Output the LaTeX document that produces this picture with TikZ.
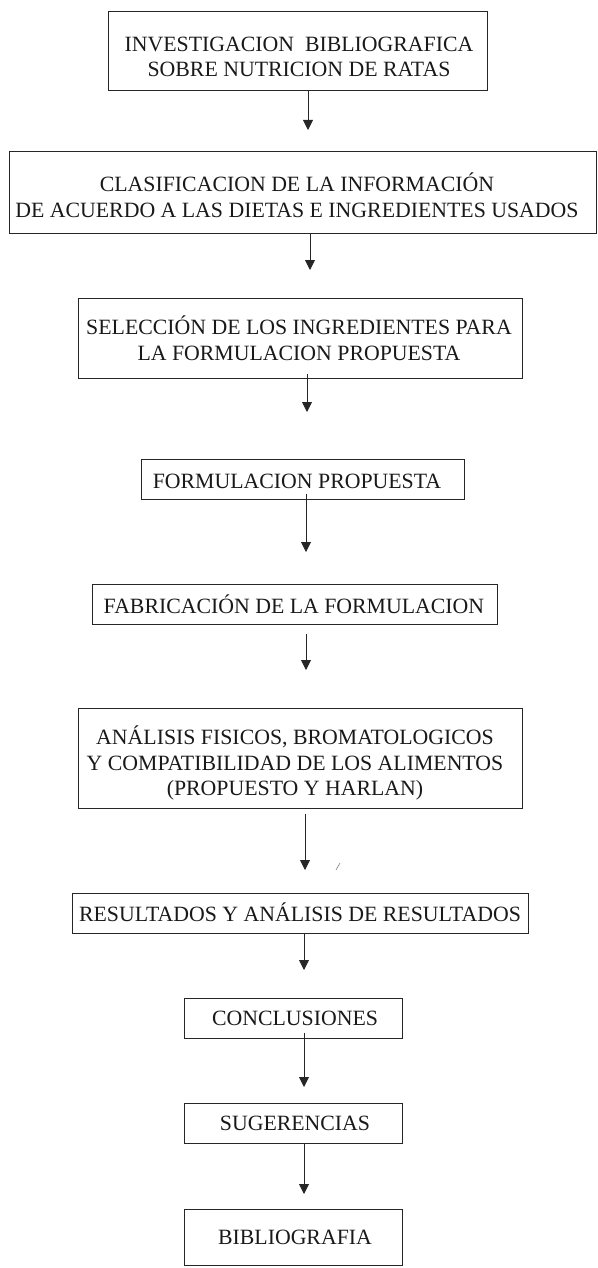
\documentclass[tikz,border=0pt]{standalone}
\usepackage{fontspec}
\setmainfont{Liberation Serif}
\usetikzlibrary{arrows.meta}
\tikzset{
  box/.style={draw=black!85, line width=1pt, inner sep=0pt},
  txt/.style={anchor=base, inner sep=0pt, font=\fontsize{21.8}{25}\selectfont, text=black!90},
  arr/.style={draw=black!85, line width=0.9pt, -{Triangle[length=10pt,width=10pt]}}
}
\begin{document}
\begin{tikzpicture}[x=1pt,y=-1pt]
\useasboundingbox (0,0) rectangle (597,1268);
% boxes
\node[box, minimum width=379pt, minimum height=79pt] (b1) at (297.5,51.5) {};
\node[box, minimum width=587pt, minimum height=81pt] (b2) at (302.5,192.5) {};
\node[box, minimum width=444pt, minimum height=80pt] (b3) at (300,338) {};
\node[box, minimum width=323pt, minimum height=40pt] (b4) at (302.5,479) {};
\node[box, minimum width=405pt, minimum height=40pt] (b5) at (294.5,604) {};
\node[box, minimum width=444pt, minimum height=100pt] (b6) at (300,758) {};
\node[box, minimum width=456pt, minimum height=40pt] (b7) at (300,913) {};
\node[box, minimum width=218pt, minimum height=40pt] (b8) at (293,1018) {};
\node[box, minimum width=218pt, minimum height=40pt] (b9) at (293,1123) {};
\node[box, minimum width=218pt, minimum height=56pt] (b10) at (293,1237) {};
% texts
\node[txt] (t1a) at (299,52) {INVESTIGACION\ \ BIBLIOGRAFICA};
\node[txt] (t1b) at (299,77) {SOBRE NUTRICION DE RATAS};
\node[txt] (t2a) at (297,192) {CLASIFICACION DE LA INFORMACIÓN};
\node[txt] (t2b) at (297,217) {DE ACUERDO A LAS DIETAS E INGREDIENTES USADOS};
\node[txt] (t3a) at (299,334) {SELECCIÓN DE LOS INGREDIENTES PARA};
\node[txt] (t3b) at (299,360) {LA FORMULACION PROPUESTA};
\node[txt] (t4) at (297,488) {FORMULACION PROPUESTA};
\node[txt] (t5) at (294,613) {FABRICACIÓN DE LA FORMULACION};
\node[txt] (t6a) at (295,744) {ANÁLISIS FISICOS, BROMATOLOGICOS};
\node[txt] (t6b) at (295,770) {Y COMPATIBILIDAD DE LOS ALIMENTOS};
\node[txt] (t6c) at (295,795) {(PROPUESTO Y HARLAN)};
\node[txt] (t7) at (300,921) {RESULTADOS Y ANÁLISIS DE RESULTADOS};
\node[txt] (t8) at (295,1025) {CONCLUSIONES};
\node[txt] (t9) at (295,1130) {SUGERENCIAS};
\node[txt] (t10) at (295,1244) {BIBLIOGRAFIA};
% arrow tips
\coordinate (e1) at (308,130);
\coordinate (e2) at (310,270);
\coordinate (e3) at (307,412);
\coordinate (e4) at (306,552);
\coordinate (e5) at (306,670);
\coordinate (e6) at (305,870);
\coordinate (e7) at (304,970);
\coordinate (e8) at (304,1087);
\coordinate (e9) at (304,1194);
% connectors
\draw[arr] (e1 |- b1.south) -- (e1);
\draw[arr] (e2 |- b2.south) -- (e2);
\draw[arr, shorten <=-5pt] (e3 |- b3.south) -- (e3);
\draw[arr, shorten <=-6pt] (e4 |- b4.south) -- (e4);
\draw[arr, shorten <=9pt] (e5 |- b5.south) -- (e5);
\draw[arr, shorten <=5pt] (e6 |- b6.south) -- (e6);
\draw[arr] (e7 |- b7.south) -- (e7);
\draw[arr, shorten <=-6pt] (e8 |- b8.south) -- (e8);
\draw[arr] (e9 |- b9.south) -- (e9);
% small scan mark
\draw[black!50, line width=0.6pt] (336,870) -- (340,863);
\end{tikzpicture}
\end{document}
